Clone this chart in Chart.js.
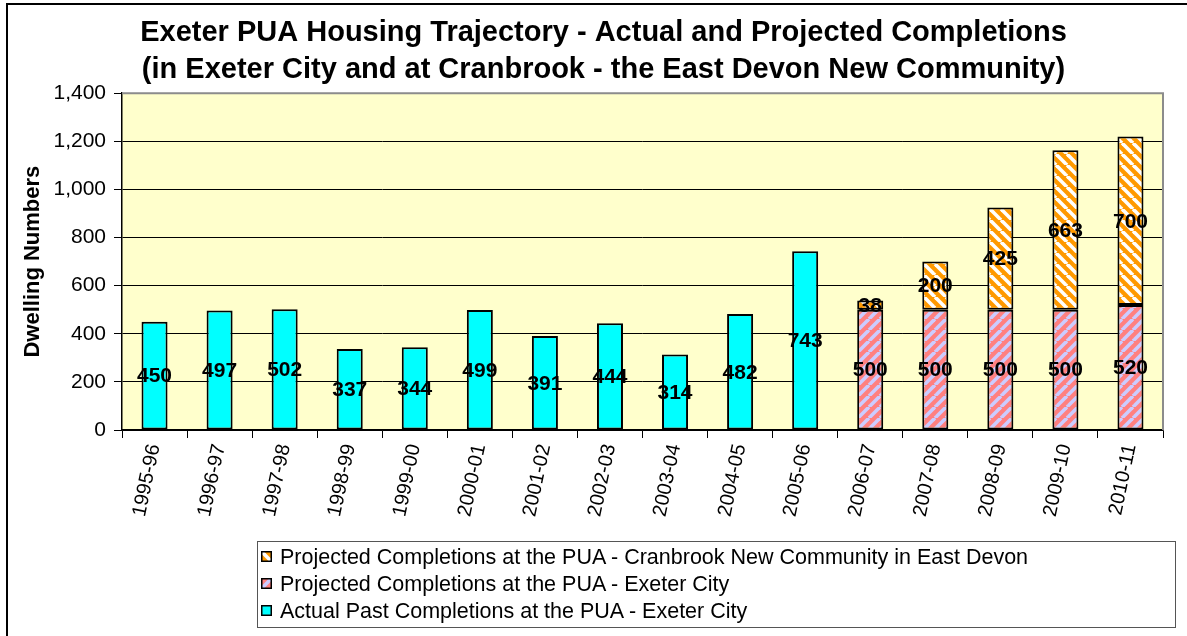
<!DOCTYPE html>
<html>
<head>
<meta charset="utf-8">
<script src="https://cdn.jsdelivr.net/npm/chart.js@4.4.1/dist/chart.umd.min.js"></script>
<style>
    body { margin: 0; background: #fff; }
    #wrap { position: relative; width: 1187px; height: 636px; }
    #legend-box {
        position: absolute; left: 257px; top: 541px; width: 919px; height: 87px;
        border: 1px solid #555; box-sizing: border-box; background: #fff;
        font-family: Arial, 'Liberation Sans', sans-serif; font-size: 21.5px; color: #000;
        padding-top: 2px;
    }
    .legend-row { height: 27px; line-height: 27px; white-space: nowrap; }
    .legend-row canvas { vertical-align: middle; margin: 0 8px 3px 3px; }
</style>
</head>
<body>
<div id="wrap">
    <canvas id="chart" width="1187" height="636"></canvas>
    <div id="legend-box"></div>
</div>
<script>
const years = ['1995-96', '1996-97', '1997-98', '1998-99', '1999-00', '2000-01', '2001-02', '2002-03',
    '2003-04', '2004-05', '2005-06', '2006-07', '2007-08', '2008-09', '2009-10', '2010-11'];
const actualExeter = [450, 497, 502, 337, 344, 499, 391, 444, 314, 482, 743, null, null, null, null, null];
const projectedExeter = [null, null, null, null, null, null, null, null, null, null, null, 500, 500, 500, 500, 520];
const projectedCranbrook = [null, null, null, null, null, null, null, null, null, null, null, 38, 200, 425, 663, 700];
const yTicks = [0, 200, 400, 600, 800, 1000, 1200, 1400];

const labelActual = 'Actual Past Completions at the PUA - Exeter City';
const labelExeter = 'Projected Completions at the PUA - Exeter City';
const labelCranbrook = 'Projected Completions at the PUA - Cranbrook New Community in East Devon';

const FONT = "Arial, 'Liberation Sans', sans-serif";

// striped fill, dir 1 = "/" and -1 = "\"
function makeStripes(base, stripe, dir) {
    const size = 11;
    const c = document.createElement('canvas');
    c.width = size;
    c.height = size;
    const g = c.getContext('2d');
    g.fillStyle = base;
    g.fillRect(0, 0, size, size);
    g.strokeStyle = stripe;
    g.lineWidth = 3.6;
    for (let k = -1; k <= 1; k++) {
        g.beginPath();
        if (dir > 0) {
            g.moveTo(k * size, size);
            g.lineTo(k * size + size, 0);
        } else {
            g.moveTo(k * size, 0);
            g.lineTo(k * size + size, size);
        }
        g.stroke();
    }
    return g.createPattern(c, 'repeat');
}

const ctx = document.getElementById('chart').getContext('2d');
const cranbrookFill = makeStripes('#FF9900', '#FFFFFF', -1);
const exeterFill = makeStripes('#FF8080', '#CCCCFF', 1);

const outerFrame = {
    id: 'outerFrame',
    beforeDraw(chart) {
        const c = chart.ctx;
        const a = chart.chartArea;
        c.save();
        c.fillStyle = '#FFFFCC';
        c.fillRect(a.left, a.top, a.right - a.left, a.bottom - a.top);
        c.strokeStyle = '#000';
        c.lineWidth = 2;
        c.strokeRect(7, 4, 1220, 700);
        c.restore();
    },
    afterDatasetsDraw(chart) {
        const c = chart.ctx;
        const a = chart.chartArea;
        c.save();
        c.strokeStyle = '#8c8c8c';
        c.lineWidth = 2;
        c.beginPath();
        c.moveTo(a.left, a.top);
        c.lineTo(a.right, a.top);
        c.lineTo(a.right, a.bottom);
        c.stroke();
        c.restore();
    }
};

const barValues = {
    id: 'barValues',
    afterDatasetsDraw(chart) {
        const c = chart.ctx;
        c.save();
        c.font = 'bold 21px ' + FONT;
        c.fillStyle = '#000';
        c.textAlign = 'center';
        c.textBaseline = 'middle';
        chart.data.datasets.forEach((ds, i) => {
            chart.getDatasetMeta(i).data.forEach((bar, j) => {
                const v = ds.data[j];
                if (v === null || v === undefined) return;
                c.fillText(String(v), bar.x, (bar.y + bar.base) / 2 + 1);
            });
        });
        c.restore();
    }
};

const chart = new Chart(ctx, {
    type: 'bar',
    data: {
        labels: years,
        datasets: [
            { label: labelActual, data: actualExeter, backgroundColor: '#00FFFF' },
            { label: labelExeter, data: projectedExeter, backgroundColor: exeterFill },
            { label: labelCranbrook, data: projectedCranbrook, backgroundColor: cranbrookFill }
        ]
    },
    options: {
        responsive: false,
        animation: false,
        layout: { padding: { left: 20, right: 0, top: 0, bottom: 109 } },
        datasets: {
            bar: {
                borderColor: '#000',
                borderWidth: 2,
                borderSkipped: false,
                categoryPercentage: 1,
                barPercentage: 0.4
            }
        },
        plugins: {
            legend: { display: false },
            tooltip: { enabled: false },
            title: {
                display: true,
                text: ['Exeter PUA Housing Trajectory - Actual and Projected Completions',
                    '(in Exeter City and at Cranbrook - the East Devon New Community)'],
                color: '#000',
                font: { family: FONT, size: 29, weight: 'bold', lineHeight: 1.28 },
                padding: { top: 14, bottom: 5 }
            }
        },
        scales: {
            x: {
                stacked: true,
                offset: true,
                afterFit(scale) { scale.height = 97; },
                grid: {
                    offset: true,
                    drawOnChartArea: false,
                    drawTicks: true,
                    tickLength: 8,
                    color: '#000'
                },
                border: { color: '#000', width: 1.5 },
                ticks: {
                    color: '#000',
                    font: { family: FONT, size: 20 },
                    minRotation: 78,
                    maxRotation: 78,
                    padding: 4
                }
            },
            y: {
                stacked: true,
                min: 0,
                max: 1400,
                afterFit(scale) { scale.width = 102; },
                afterBuildTicks(scale) { scale.ticks = yTicks.map(v => ({ value: v })); },
                grid: { color: '#000', lineWidth: 1, tickLength: 8 },
                border: { color: '#000', width: 1.5 },
                ticks: {
                    color: '#000',
                    font: { family: FONT, size: 21 },
                    padding: 8,
                    callback: v => v.toLocaleString('en-US')
                },
                title: {
                    display: true,
                    text: 'Dwelling Numbers',
                    color: '#000',
                    font: { family: FONT, size: 22, weight: 'bold' },
                    padding: { top: 0, bottom: 0 }
                }
            },
            y2: {
                position: 'right',
                display: true,
                afterFit(scale) { scale.width = 24; },
                grid: { display: false },
                border: { display: false },
                ticks: { display: false }
            }
        }
    },
    plugins: [outerFrame, barValues]
});

// legend in reverse order, like the original
const legendBox = document.getElementById('legend-box');
[
    [labelCranbrook, cranbrookFill],
    [labelExeter, exeterFill],
    [labelActual, '#00FFFF']
].forEach(([text, fill]) => {
    const row = document.createElement('div');
    row.className = 'legend-row';
    const sw = document.createElement('canvas');
    sw.width = 11;
    sw.height = 11;
    const g = sw.getContext('2d');
    g.fillStyle = fill;
    g.fillRect(0, 0, 11, 11);
    g.strokeStyle = '#000';
    g.lineWidth = 1.5;
    g.strokeRect(0.75, 0.75, 9.5, 9.5);
    row.appendChild(sw);
    row.appendChild(document.createTextNode(text));
    legendBox.appendChild(row);
});
</script>
</body>
</html>
